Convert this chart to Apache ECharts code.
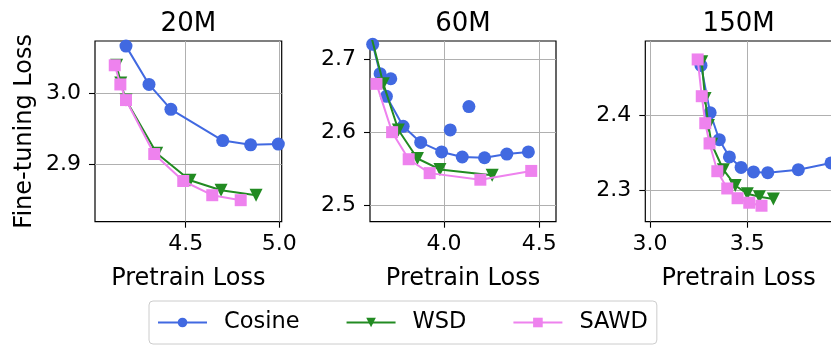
<!DOCTYPE html>
<html>
<head>
<meta charset="utf-8">
<script src="https://cdn.jsdelivr.net/npm/echarts@6/dist/echarts.min.js"></script>
<style>html,body{margin:0;padding:0;background:#fff}#c{width:831px;height:345px}</style>
</head>
<body>
<div id="c"></div>
<script>
// ---- data ----
const panelTitles = ['20M', '60M', '150M'];
const seriesNames = ['Cosine', 'WSD', 'SAWD'];

const cos20x = [4.181, 4.304, 4.421, 4.698, 4.847, 4.995];
const cos20y = [3.066, 3.012, 2.977, 2.933, 2.927, 2.928];
const wsd20x = [4.131, 4.153, 4.181, 4.345, 4.523, 4.689, 4.876];
const wsd20y = [3.039, 3.014, 2.990, 2.915, 2.877, 2.863, 2.856];
const sawd20x = [4.121, 4.151, 4.181, 4.332, 4.487, 4.642, 4.794];
const sawd20y = [3.039, 3.012, 2.990, 2.914, 2.876, 2.856, 2.849];

const cos60x = [3.626, 3.665, 3.698, 3.786, 3.878, 3.988, 4.096, 4.213, 4.330, 4.443];
const cos60y = [2.720, 2.680, 2.649, 2.608, 2.586, 2.573, 2.566, 2.565, 2.570, 2.573];
const cos60extraX = [3.721, 4.033, 4.131];
const cos60extraY = [2.673, 2.603, 2.635];
const wsd60x = [3.605, 3.682, 3.761, 3.861, 3.979, 4.253];
const wsd60y = [2.745, 2.666, 2.603, 2.564, 2.549, 2.541];
const sawd60x = [3.646, 3.728, 3.815, 3.925, 4.191, 4.458];
const sawd60y = [2.666, 2.600, 2.563, 2.544, 2.535, 2.547];

const cos150x = [3.262, 3.309, 3.356, 3.408, 3.468, 3.532, 3.605, 3.762, 3.930];
const cos150y = [2.467, 2.404, 2.368, 2.345, 2.331, 2.325, 2.324, 2.328, 2.337];
const wsd150x = [3.266, 3.283, 3.300, 3.317, 3.377, 3.438, 3.500, 3.562, 3.634];
const wsd150y = [2.472, 2.423, 2.387, 2.362, 2.328, 2.307, 2.296, 2.292, 2.289];
const sawd150x = [3.245, 3.266, 3.284, 3.306, 3.346, 3.397, 3.450, 3.510, 3.573];
const sawd150y = [2.475, 2.426, 2.390, 2.363, 2.326, 2.303, 2.290, 2.284, 2.280];

const xTicks20 = [4.5, 5.0];
const yTicks20 = [2.9, 3.0];
const xTicks60 = [4.0, 4.5];
const yTicks60 = [2.5, 2.6, 2.7];
const xTicks150 = [3.0, 3.5];
const yTicks150 = [2.3, 2.4];

const xRange20 = [4.0155, 5.013];
const yRange20 = [2.8187, 3.0732];
const xRange60 = [3.612, 4.588];
const yRange60 = [2.4776, 2.7246];
const xRange150 = [2.976, 3.935];
const yRange150 = [2.2587, 2.4996];

// ---- build ----
const FONT = 'DejaVu Sans';
const colors = { Cosine: '#4169E1', WSD: '#228B22', SAWD: '#EE82EE' };
const symbols = { Cosine: 'circle', WSD: 'path://M0,0L10,0L5,10Z', SAWD: 'rect' };
const symSizes = { Cosine: 13, WSD: 13, SAWD: 12 };

const zip = (xs, ys) => xs.map((x, i) => [x, ys[i]]);

const panels = [
  { x: xRange20, y: yRange20, xt: xTicks20, yt: yTicks20, left: 95, width: 186.7,
    data: { Cosine: [cos20x, cos20y], WSD: [wsd20x, wsd20y], SAWD: [sawd20x, sawd20y] } },
  { x: xRange60, y: yRange60, xt: xTicks60, yt: yTicks60, left: 370, width: 186,
    data: { Cosine: [cos60x, cos60y], WSD: [wsd60x, wsd60y], SAWD: [sawd60x, sawd60y] },
    extra: [cos60extraX, cos60extraY] },
  { x: xRange150, y: yRange150, xt: xTicks150, yt: yTicks150, left: 645.3, width: 186.7,
    data: { Cosine: [cos150x, cos150y], WSD: [wsd150x, wsd150y], SAWD: [sawd150x, sawd150y] } }
];

const grid = [], xAxis = [], yAxis = [], series = [], title = [];
panels.forEach((p, i) => {
  grid.push({ left: p.left, top: 41, width: p.width, height: 180.7, show: true,
    borderColor: '#000', borderWidth: 1.2, backgroundColor: 'transparent',
    containLabel: false, outerBoundsMode: 'none' });
  title.push({ text: panelTitles[i], left: p.left + p.width / 2, top: 11, textAlign: 'center', padding: 0,
    textStyle: { fontFamily: FONT, fontSize: 26, fontWeight: 'normal', color: '#000' } });
  const common = {
    axisLine: { show: false },
    axisTick: { show: true, length: 6, lineStyle: { color: '#000', width: 1.1 } },
    splitLine: { show: true, lineStyle: { color: '#b0b0b0', width: 1 } },
  };
  xAxis.push(Object.assign({}, common, {
    gridIndex: i, type: 'value', min: p.x[0], max: p.x[1],
    axisTick: Object.assign({}, common.axisTick, { customValues: p.xt }),
    axisLabel: { customValues: p.xt, formatter: v => v.toFixed(1), fontFamily: FONT, fontSize: 22, color: '#000', margin: 12 },
    name: 'Pretrain Loss', nameLocation: 'middle', nameGap: 45,
    nameTextStyle: { fontFamily: FONT, fontSize: 24, color: '#000' }
  }));
  yAxis.push(Object.assign({}, common, {
    gridIndex: i, type: 'value', min: p.y[0], max: p.y[1],
    axisTick: Object.assign({}, common.axisTick, { customValues: p.yt }),
    axisLabel: { customValues: p.yt, formatter: v => v.toFixed(1), fontFamily: FONT, fontSize: 22, color: '#000', margin: 14 },
    name: i === 0 ? 'Fine-tuning Loss' : '', nameLocation: 'middle', nameGap: 58,
    nameTextStyle: { fontFamily: FONT, fontSize: 24, color: '#000' }
  }));
  seriesNames.forEach((n, k) => {
    const d = p.data[n];
    series.push({
      name: n, type: 'line', xAxisIndex: i, yAxisIndex: i, data: zip(d[0], d[1]),
      symbol: symbols[n], symbolSize: symSizes[n], showAllSymbol: true, clip: true,
      lineStyle: { color: colors[n], width: 2 }, itemStyle: { color: colors[n] },
      z: 2 + k, animation: false, emphasis: { disabled: true }
    });
  });
  if (p.extra) {
    series.push({
      name: 'Cosine', type: 'scatter', xAxisIndex: i, yAxisIndex: i, data: zip(p.extra[0], p.extra[1]),
      symbol: 'circle', symbolSize: 13, itemStyle: { color: colors.Cosine, opacity: 1 },
      z: 2, animation: false, emphasis: { disabled: true }
    });
  }
});

const chart = echarts.init(document.getElementById('c'), null, { renderer: 'canvas' });
chart.setOption({
  animation: false,
  textStyle: { fontFamily: FONT },
  title, grid, xAxis, yAxis, series,
  legend: {
    data: seriesNames, left: 149, top: 301, orient: 'horizontal',
    itemWidth: 49, itemHeight: 12, itemGap: 46,
    padding: [10, 9, 10, 8], borderColor: '#cccccc', borderWidth: 1, borderRadius: 4,
    formatter: name => '{a|' + name + '}',
    textStyle: { fontFamily: FONT, fontSize: 22.5, color: '#000', rich: { a: { fontFamily: FONT, fontSize: 22.5, color: '#000', padding: [0, 0, 0, 12] } } }
  }
});
</script>
</body>
</html>
